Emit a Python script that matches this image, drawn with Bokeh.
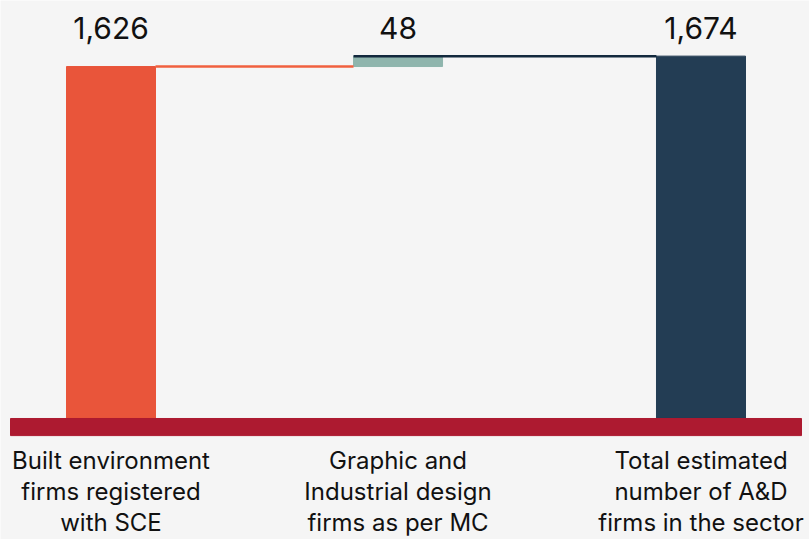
from bokeh.plotting import figure
from bokeh.models import ColumnDataSource, Range1d
from bokeh.embed import file_html
from bokeh.resources import INLINE
from bokeh.core.properties import value

categories = ["Built environment\nfirms registered\nwith SCE",
              "Graphic and\nIndustrial design\nfirms as per MC",
              "Total estimated\nnumber of A&D\nfirms in the sector"]
values = [1626, 48, 1674]
value_labels = ["1,626", "48", "1,674"]
kinds = ["start", "delta", "total"]
colors = ["#e9553a", "#8fb5ad", "#233d54"]

# waterfall bottoms / tops
bottoms, tops = [], []
running = 0
for v, k in zip(values, kinds):
    if k == "delta":
        bottoms.append(running)
        tops.append(running + v)
        running += v
    else:
        bottoms.append(0)
        tops.append(v)
        running = v

xs = [0, 0.973, 2]
src = ColumnDataSource(dict(x=xs, bottom=bottoms, top=tops, color=colors,
                            vlab=value_labels, cat=categories))

p = figure(width=809, height=539, output_backend="svg", toolbar_location=None,
           x_range=Range1d(-0.3746, 2.3678), y_range=Range1d(-559, 1931),
           min_border=0, min_border_left=0, min_border_right=0,
           min_border_top=0, min_border_bottom=0)
p.background_fill_color = "#f5f5f5"
p.border_fill_color = "#f5f5f5"
p.outline_line_color = None
p.axis.visible = False
p.grid.visible = False

bw = 0.3017
p.vbar(x="x", bottom="bottom", top="top", width=bw, color="color", source=src)

# connectors
p.segment(x0=[xs[0] + bw / 2], y0=[tops[0]], x1=[xs[1] - bw / 2], y1=[tops[0]],
          line_color="#f0603f", line_width=2.5)
p.segment(x0=[xs[1] - bw / 2], y0=[tops[1]], x1=[xs[2] - bw / 2], y1=[tops[1]],
          line_color="#13293d", line_width=2.5)

# baseline band
p.quad(left=[-0.3407], right=[2.3407], top=[0], bottom=[-79],
       color="#ad1a30")

# value labels
p.text(x="x", y=1806, text="vlab", source=src, text_align="center",
       text_baseline="middle", text_font=value("Inter"),
       text_font_size="30px", text_color="#111111")

# category labels
p.text(x="x", y=-126, text="cat", source=src, text_align="center",
       text_baseline="top", text_font=value("Inter"),
       text_font_size="24px", text_color="#111111", text_line_height=1.07)

open("out.html", "w").write(file_html(p, INLINE))
